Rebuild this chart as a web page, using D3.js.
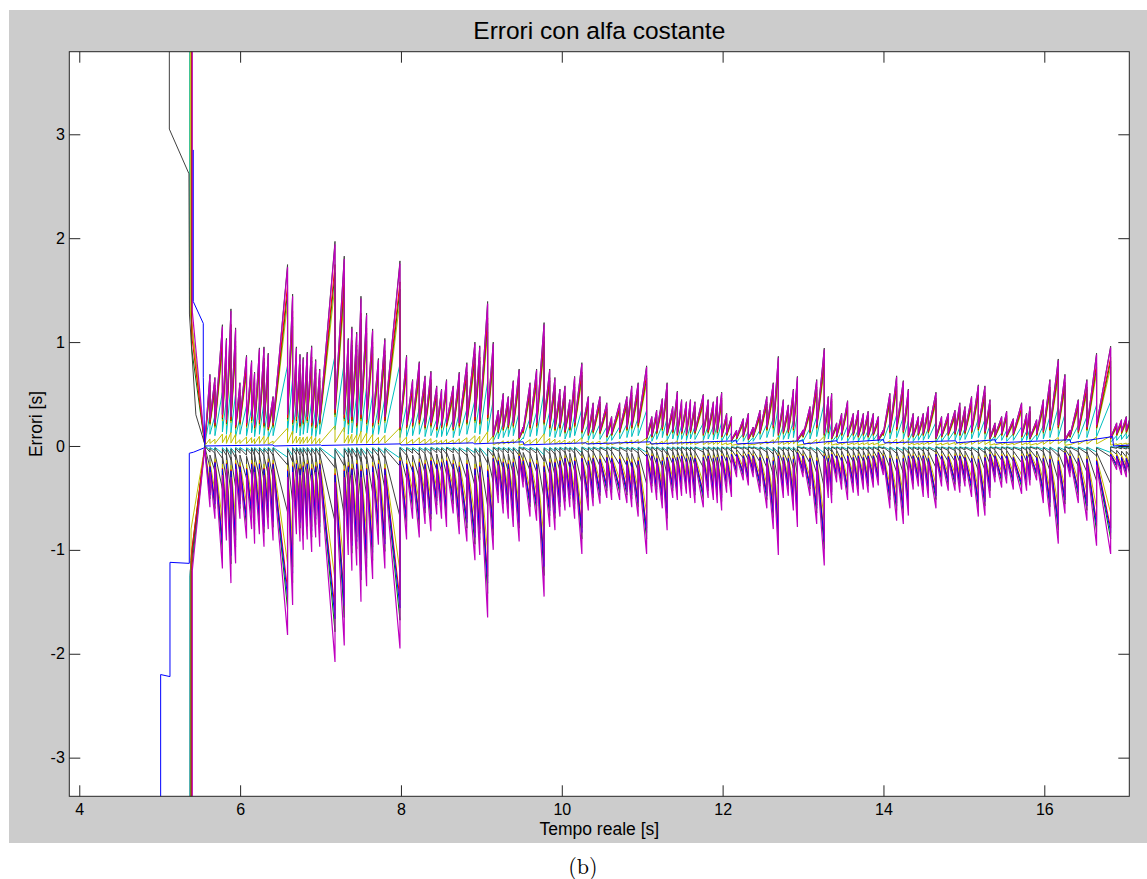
<!DOCTYPE html>
<html><head><meta charset="utf-8">
<script src="https://cdn.jsdelivr.net/npm/d3@7"></script>
<style>body{margin:0;background:#fff}svg{display:block}</style>
</head><body><svg id="c" width="1147" height="879"></svg>
<script>
// ---------------- DATA ----------------
const xTicks = [4, 6, 8, 10, 12, 14, 16];
const yTicks = [-3, -2, -1, 0, 1, 2, 3];
const titleText = "Errori con alfa costante";
const xLabelText = "Tempo reale [s]";
const yLabelText = "Errori [s]";
const captionText = "(b)";

// time at which the sawtooth teeth start (convergence point)
const toothStart = 5.56;
// reset instants of the sawtooth teeth [s]
const toothT = [
 5.625,5.687,5.78,5.83,5.886,5.944,5.998,6.08,6.143,6.18,
 6.24,6.297,6.35,6.41,6.59,6.653,6.70,6.745,6.785,6.835,
 6.89,6.94,6.99,7.18,7.295,7.345,7.39,7.45,7.503,7.573,
 7.648,7.72,7.80,7.988,8.07,8.145,8.228,8.30,8.373,8.445,
 8.505,8.567,8.65,8.725,8.82,8.92,8.98,9.078,9.148,9.21,
 9.272,9.335,9.397,9.47,9.52,9.605,9.687,9.78,9.85,9.915,
 9.977,10.04,10.10,10.16,10.25,10.33,10.39,10.475,10.56,10.62,
 10.72,10.81,10.87,10.95,11.055,11.12,11.18,11.25,11.31,11.38,
 11.437,11.49,11.55,11.60,11.656,11.76,11.82,11.885,11.934,11.988,
 12.05,12.11,12.174,12.257,12.32,12.38,12.465,12.55,12.63,12.693,
 12.755,12.817,12.88,12.93,13.00,13.086,13.17,13.264,13.314,13.356,
 13.418,13.48,13.554,13.625,13.687,13.75,13.81,13.874,13.936,13.998,
 14.08,14.164,14.247,14.31,14.37,14.434,14.495,14.558,14.653,14.723,
 14.806,14.89,14.95,15.014,15.096,15.18,15.262,15.325,15.387,15.47,
 15.532,15.615,15.718,15.78,15.822,15.905,15.988,16.07,16.174,16.257,
 16.32,16.423,16.53,16.65,16.825,16.90,16.96,17.02,17.08];
// upper envelope: peak reached at each reset [s]
const upPeak = [
 0.68,0.65,1.15,1.02,1.30,1.12,0.60,0.86,0.81,0.70,
 0.93,0.94,0.88,0.47,1.72,1.44,0.94,0.87,0.84,0.89,
 0.95,0.82,0.73,1.94,1.80,1.02,1.13,1.08,1.42,1.26,
 1.11,0.83,1.02,1.755,0.86,0.63,0.80,0.665,0.71,0.57,
 0.54,0.63,0.57,0.70,0.79,0.985,0.95,1.37,0.985,0.34,
 0.50,0.47,0.62,0.73,0.18,0.60,0.73,1.17,0.73,0.65,
 0.54,0.57,0.44,0.66,0.79,0.47,0.41,0.47,0.41,0.28,
 0.41,0.47,0.57,0.60,0.76,0.28,0.34,0.45,0.60,0.375,
 0.52,0.44,0.42,0.44,0.42,0.49,0.44,0.42,0.47,0.51,
 0.31,0.28,0.15,0.26,0.31,0.18,0.34,0.47,0.60,0.85,
 0.44,0.39,0.54,0.66,0.15,0.375,0.63,0.928,0.47,0.50,
 0.22,0.31,0.43,0.31,0.34,0.31,0.33,0.31,0.28,0.15,
 0.50,0.665,0.62,0.54,0.31,0.28,0.31,0.375,0.51,0.28,
 0.31,0.34,0.41,0.375,0.47,0.58,0.57,0.44,0.22,0.28,
 0.33,0.26,0.41,0.31,0.375,0.25,0.44,0.63,0.825,0.68,
 0.15,0.44,0.63,0.88,0.947,0.22,0.25,0.28,0.30];
// upper envelope: value right after each reset [s]
const upLow = [
 0.02,0.25,0.22,0.30,0.25,0.28,0.20,0.25,0.22,0.28,
 0.20,0.25,0.22,0.18,0.22,0.30,0.25,0.28,0.22,0.25,
 0.28,0.22,0.20,0.25,0.35,0.30,0.25,0.28,0.22,0.30,
 0.25,0.22,0.25,0.28,0.18,0.20,0.22,0.25,0.20,0.22,
 0.18,0.20,0.22,0.18,0.22,0.25,0.28,0.25,0.30,0.10,
 0.15,0.18,0.20,0.22,0.08,0.15,0.20,0.22,0.25,0.20,
 0.18,0.20,0.15,0.18,0.22,0.15,0.12,0.15,0.14,0.10,
 0.12,0.15,0.18,0.20,0.22,0.08,0.10,0.14,0.18,0.12,
 0.15,0.12,0.14,0.12,0.15,0.14,0.12,0.15,0.13,0.15,
 0.10,0.12,0.06,0.08,0.10,0.07,0.10,0.14,0.18,0.20,
 0.12,0.14,0.15,0.18,0.06,0.10,0.15,0.20,0.12,0.15,
 0.08,0.10,0.12,0.10,0.12,0.10,0.12,0.10,0.12,0.06,
 0.12,0.15,0.18,0.15,0.10,0.10,0.12,0.12,0.15,0.08,
 0.10,0.12,0.13,0.12,0.14,0.15,0.18,0.14,0.08,0.10,
 0.12,0.10,0.12,0.10,0.12,0.08,0.12,0.15,0.18,0.20,
 0.06,0.10,0.15,0.18,0.20,0.08,0.12,0.14,0.15];
// lower envelope: trough reached at each reset [s]
const lowTrough = [
 -0.59,-0.70,-1.18,-0.91,-1.32,-1.13,-0.70,-0.89,-0.80,-0.94,
 -0.85,-0.97,-0.80,-0.91,-1.82,-1.53,-0.85,-0.92,-1.00,-0.90,
 -1.02,-0.88,-0.97,-2.08,-1.92,-1.05,-1.20,-1.15,-1.50,-1.35,
 -1.28,-0.95,-1.18,-1.95,-0.90,-0.70,-0.88,-0.75,-0.82,-0.66,
 -0.70,-0.78,-0.65,-0.85,-0.92,-1.10,-1.05,-1.65,-1.00,-0.55,
 -0.65,-0.70,-0.78,-0.92,-0.40,-0.68,-0.72,-1.45,-0.78,-0.81,
 -0.68,-0.62,-0.59,-0.70,-1.04,-0.62,-0.58,-0.555,-0.50,-0.52,
 -0.52,-0.55,-0.59,-0.68,-1.04,-0.45,-0.52,-0.60,-0.81,-0.50,
 -0.52,-0.48,-0.46,-0.50,-0.55,-0.59,-0.50,-0.52,-0.55,-0.62,
 -0.45,-0.49,-0.30,-0.33,-0.38,-0.30,-0.45,-0.60,-0.80,-1.05,
 -0.50,-0.48,-0.62,-0.78,-0.30,-0.48,-0.75,-1.15,-0.50,-0.55,
 -0.35,-0.42,-0.52,-0.45,-0.48,-0.42,-0.45,-0.40,-0.38,-0.28,
 -0.60,-0.72,-0.75,-0.67,-0.42,-0.39,-0.49,-0.50,-0.60,-0.39,
 -0.43,-0.43,-0.45,-0.39,-0.49,-0.68,-0.67,-0.50,-0.35,-0.40,
 -0.36,-0.42,-0.46,-0.43,-0.38,-0.33,-0.55,-0.68,-0.94,-0.65,
 -0.30,-0.55,-0.72,-0.96,-1.04,-0.23,-0.28,-0.30,-0.32];
// lower envelope: value right after each reset [s]
const lowBase = [
 -0.02,-0.25,-0.20,-0.28,-0.22,-0.30,-0.22,-0.25,-0.28,-0.22,
 -0.25,-0.22,-0.28,-0.20,-0.22,-0.30,-0.25,-0.22,-0.28,-0.25,
 -0.22,-0.28,-0.25,-0.22,-0.35,-0.30,-0.25,-0.28,-0.22,-0.30,
 -0.28,-0.25,-0.22,-0.28,-0.18,-0.22,-0.25,-0.20,-0.22,-0.18,
 -0.22,-0.20,-0.18,-0.22,-0.25,-0.22,-0.28,-0.25,-0.30,-0.15,
 -0.18,-0.20,-0.22,-0.20,-0.12,-0.18,-0.20,-0.22,-0.25,-0.20,
 -0.20,-0.18,-0.15,-0.20,-0.18,-0.15,-0.18,-0.15,-0.16,-0.14,
 -0.15,-0.16,-0.18,-0.20,-0.18,-0.10,-0.12,-0.15,-0.18,-0.14,
 -0.15,-0.14,-0.12,-0.15,-0.14,-0.15,-0.14,-0.12,-0.15,-0.14,
 -0.12,-0.14,-0.10,-0.10,-0.12,-0.10,-0.12,-0.14,-0.15,-0.18,
 -0.12,-0.14,-0.15,-0.16,-0.08,-0.12,-0.15,-0.18,-0.12,-0.15,
 -0.10,-0.12,-0.14,-0.12,-0.14,-0.12,-0.14,-0.12,-0.12,-0.08,
 -0.12,-0.15,-0.16,-0.15,-0.12,-0.12,-0.14,-0.12,-0.15,-0.10,
 -0.12,-0.13,-0.12,-0.12,-0.14,-0.15,-0.16,-0.14,-0.10,-0.12,
 -0.12,-0.12,-0.14,-0.12,-0.12,-0.10,-0.14,-0.15,-0.16,-0.18,
 -0.08,-0.12,-0.15,-0.16,-0.18,-0.10,-0.12,-0.14,-0.15];

// early transient of the black (upper) series
const blackLeadT = [5.12, 5.12, 5.364, 5.37, 5.45];
const blackLeadV = [4.3, 3.05, 2.62, 1.27, 0.30];
// early staircase of the blue (lower) series
const blueStairT = [5.012, 5.012, 5.128, 5.128, 5.368, 5.368, 5.42];
const blueStairV = [-3.6, -2.20, -2.22, -1.12, -1.13, -0.07, -0.06];
// near-zero blue series
const blueT = [5.4175,5.4175,5.542,5.542,5.56,6.41,6.42,7.0,7.01,7.99,8.0,8.9,8.91,9.52,9.53,10.3,10.31,11.1,11.11,12.17,12.18,13.0,13.01,13.42,13.43,14.0,14.01,14.9,14.91,15.39,15.4,16.32,16.33,16.85,16.86,17.1];
const blueV = [2.85,1.39,1.18,0.66,0.0,0.01,0.0,0.01,0.005,0.02,0.01,0.03,0.02,0.04,0.01,0.03,0.02,0.04,0.02,0.05,0.02,0.05,0.02,0.05,0.03,0.06,0.03,0.05,0.03,0.06,0.03,0.06,0.03,0.09,0.0,0.01];

// series: which envelope, relative size, entry level after the initial spike
const seriesUp = [
  {name:"c-up",  color:"#00BFBF", ratio:0.45, entry:1.35, dt:-0.018},
  {name:"y-lo",  color:"#BFBF00", ratio:0.10, entry:1.30, dt:-0.010},
  {name:"y-up",  color:"#BFBF00", ratio:0.80, entry:1.25, dt:0.000},
  {name:"g-up",  color:"#008000", ratio:0.86, entry:0.95, dt:0.005},
  {name:"r-up",  color:"#FF0000", ratio:0.90, entry:1.05, dt:0.010},
  {name:"k-up",  color:"#404040", ratio:1.015, lead:"black"},
  {name:"m-up",  color:"#BF00BF", ratio:1.00, entry:1.30, dt:0.015}
];
const seriesLow = [
  {name:"c-dn",  color:"#00BFBF", ratio:0.06, entry:-1.25, dt:-0.015},
  {name:"k0-dn", color:"#404040", ratio:0.10, entry:-1.20, dt:-0.010},
  {name:"k-dn",  color:"#404040", ratio:0.35, entry:-1.10, dt:-0.005},
  {name:"y-dn",  color:"#BFBF00", ratio:0.62, entry:-0.80, dt:0.000},
  {name:"g-dn",  color:"#008000", ratio:0.86, entry:-1.20, dt:0.005},
  {name:"r-dn",  color:"#FF0000", ratio:0.76, entry:-1.00, dt:0.010},
  {name:"b-dn",  color:"#0000FF", ratio:0.80, lead:"blue"},
  {name:"m-dn",  color:"#BF00BF", ratio:1.00, entry:-1.20, dt:0.015}
];

// ---------------- CHART ----------------
const svg = d3.select("#c");
const FONT = "'Liberation Sans', Arial, Helvetica, sans-serif";
const P = {l:69.3, r:1129.3, t:51.7, b:796.3};
const x = d3.scaleLinear().domain([3.876, 17.057]).range([P.l, P.r]);
const y = d3.scaleLinear().domain([-3.372, 3.795]).range([P.b, P.t]);

svg.append("rect").attr("x",9).attr("y",10).attr("width",1138).attr("height",833).attr("fill","#cccccc");
svg.append("rect").attr("x",P.l).attr("y",P.t).attr("width",P.r-P.l).attr("height",P.b-P.t).attr("fill","#ffffff");

svg.append("defs").append("clipPath").attr("id","clip")
  .append("rect").attr("x",P.l).attr("y",P.t).attr("width",P.r-P.l).attr("height",P.b-P.t);

function teeth(peaks, lows, r) {
  const pts = [];
  let prev = toothStart;
  for (let i = 0; i < toothT.length; i++) {
    pts.push([prev, lows[i]*r]);
    pts.push([toothT[i], peaks[i]*r]);
    prev = toothT[i];
  }
  return pts;
}
function buildSeries(s, upper) {
  let lead;
  if (s.lead === "black") lead = blackLeadT.map((t,i)=>[t, blackLeadV[i]]);
  else if (s.lead === "blue") lead = blueStairT.map((t,i)=>[t, blueStairV[i]]);
  else {
    const t0 = 5.39 + s.dt;
    lead = [[t0, upper ? 4.3 : -3.6], [t0, s.entry]];
  }
  const body = upper ? teeth(upPeak, upLow, s.ratio) : teeth(lowTrough, lowBase, s.ratio);
  return lead.concat(body);
}

const line = d3.line().x(d=>x(d[0])).y(d=>y(d[1]));
const g = svg.append("g").attr("clip-path","url(#clip)");

const order = [
  [seriesUp[0],true],[seriesUp[1],true],[seriesLow[0],false],[seriesLow[1],false],
  [seriesLow[2],false],[seriesUp[2],true],[seriesUp[3],true],[seriesUp[4],true],
  [seriesLow[3],false],[seriesLow[4],false],[seriesLow[5],false],[seriesLow[6],false],
  [seriesUp[5],true],[seriesUp[6],true],[seriesLow[7],false]
];
order.forEach(([s, up]) => {
  g.append("path").datum(buildSeries(s, up))
    .attr("fill","none").attr("stroke",s.color)
    .attr("stroke-width", s.color === "#BF00BF" ? 1.2 : 1)
    .attr("stroke-linejoin","miter").attr("d", line);
});
g.append("path").datum(blueT.map((t,i)=>[t, blueV[i]]))
  .attr("fill","none").attr("stroke","#0000FF").attr("stroke-width",1).attr("d", line);

// axes (inward ticks on all four sides, MATLAB box style)
const TK = 11;
function styleAxis(sel){
  sel.select(".domain").remove();
  sel.selectAll(".tick line").attr("stroke","#262626");
  sel.selectAll(".tick text").attr("fill","#000").style("font-family",FONT).style("font-size","16px");
}
svg.append("g").attr("transform",`translate(0,${P.b})`)
  .call(d3.axisBottom(x).tickValues(xTicks).tickFormat(d3.format("d")).tickSizeInner(-TK).tickSizeOuter(0).tickPadding(7))
  .call(styleAxis);
svg.append("g").attr("transform",`translate(0,${P.t})`)
  .call(d3.axisTop(x).tickValues(xTicks).tickFormat("").tickSizeInner(-TK).tickSizeOuter(0))
  .call(styleAxis);
svg.append("g").attr("transform",`translate(${P.l},0)`)
  .call(d3.axisLeft(y).tickValues(yTicks).tickFormat(d3.format("d")).tickSizeInner(-TK).tickSizeOuter(0).tickPadding(4.5))
  .call(styleAxis);
svg.append("g").attr("transform",`translate(${P.r},0)`)
  .call(d3.axisRight(y).tickValues(yTicks).tickFormat("").tickSizeInner(-TK).tickSizeOuter(0))
  .call(styleAxis);
svg.selectAll(".tick text").text(function(){return d3.select(this).text().replace("\u2212","-");});

svg.append("rect").attr("x",P.l).attr("y",P.t).attr("width",P.r-P.l).attr("height",P.b-P.t)
  .attr("fill","none").attr("stroke","#262626").attr("stroke-width",1);

// texts
svg.append("text").attr("x",(P.l+P.r)/2).attr("y",39).attr("text-anchor","middle")
  .style("font-family",FONT).style("font-size","24.5px").attr("fill","#000").text(titleText);
svg.append("text").attr("x",(P.l+P.r)/2).attr("y",835).attr("text-anchor","middle")
  .style("font-family",FONT).style("font-size","17.5px").attr("fill","#000").text(xLabelText);
svg.append("text").attr("transform",`translate(42,${(P.t+P.b)/2}) rotate(-90)`).attr("text-anchor","middle")
  .style("font-family",FONT).style("font-size","17.5px").attr("fill","#000").text(yLabelText);
svg.append("text").attr("x",583).attr("y",874).attr("text-anchor","middle")
  .style("font-family","'Latin Modern Roman','CMU Serif','DejaVu Serif','Liberation Serif',serif").style("font-size","22px").attr("fill","#000").text(captionText);
</script></body></html>
